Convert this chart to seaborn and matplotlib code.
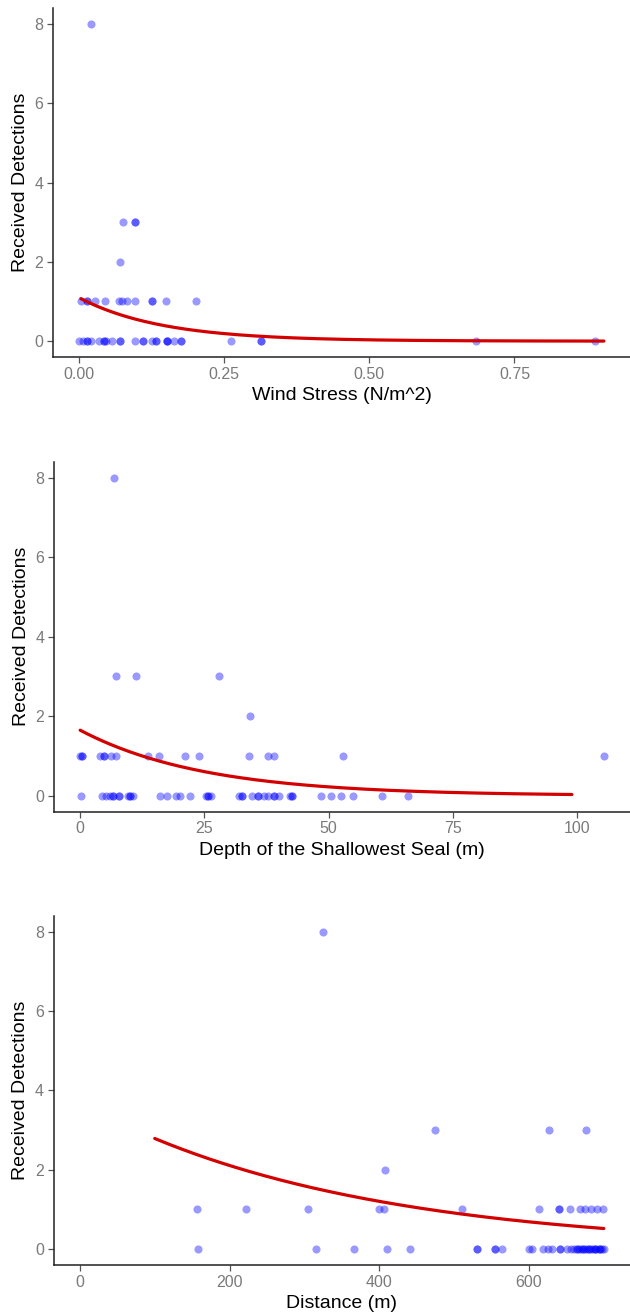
import numpy as np
import pandas as pd
import matplotlib
matplotlib.use("Agg")
import matplotlib.pyplot as plt
import seaborn as sns

# ---- data: x positions of points, grouped by number of received detections ----
wind_8 = [0.020]
wind_3 = [0.076, 0.0955, 0.0955]
wind_2 = [0.070]
wind_1 = [0.003, 0.014, 0.014, 0.027, 0.044, 0.069, 0.074, 0.082, 0.096,
          0.125, 0.125, 0.150, 0.201]
wind_0 = [0.000, 0.007, 0.014, 0.014, 0.020, 0.034, 0.043, 0.043, 0.047, 0.057,
          0.070, 0.070, 0.096, 0.110, 0.110, 0.125, 0.133, 0.133, 0.152, 0.152,
          0.152, 0.163, 0.176, 0.176, 0.261, 0.314, 0.314, 0.683, 0.888]

depth_8 = [6.9]
depth_3 = [7.2, 11.2, 28.0]
depth_2 = [34.2]
depth_1 = [0.0, 0.3, 0.3, 4.0, 4.7, 4.7, 6.3, 7.3, 13.7, 15.9, 21.2, 24.0,
           34.0, 37.8, 39.0, 52.9, 105.4]
depth_0 = [0.1, 4.3, 5.3, 6.0, 6.7, 6.7, 7.9, 7.9, 9.7, 10.1, 10.1, 10.7, 16.1,
           17.5, 19.3, 20.1, 22.2, 25.3, 25.8, 25.8, 26.3, 32.0, 32.5, 32.5,
           34.5, 35.8, 35.8, 37.0, 37.9, 39.0, 39.0, 40.1, 42.2, 42.7, 42.7,
           48.5, 50.5, 52.5, 55.0, 60.8, 66.0]

dist_8 = [325]
dist_3 = [474, 627, 676]
dist_2 = [408]
dist_1 = [156, 222, 305, 399, 406, 511, 614, 640, 640, 655, 668, 675, 683,
          691, 699]
dist_0 = [158, 316, 366, 410, 441, 531, 531, 555, 555, 564, 600, 604, 619, 625,
          631, 642, 642, 651, 656, 660, 664, 664, 667, 670, 672, 672, 675, 678,
          680, 680, 683, 685, 688, 688, 690, 693, 695, 695, 698, 700]

# poisson fit: (intercept, slope, x start, x end)
wind_fit = (0.09, -7.0, 0.003, 0.904)
depth_fit = (0.50, -0.040, 0.0, 99.0)
dist_fit = (1.306, -0.0028, 100.0, 700.0)

wind_ticks = [0.0, 0.25, 0.5, 0.75]
wind_labels = ["0.00", "0.25", "0.50", "0.75"]
depth_ticks = [0, 25, 50, 75, 100]
dist_ticks = [0, 200, 400, 600]
y_ticks = [0, 2, 4, 6, 8]


def make_df(groups):
    rows = []
    for count, xs in groups.items():
        for x in xs:
            rows.append((x, count))
    return pd.DataFrame(rows, columns=["x", "detections"])


def fit_df(fit):
    a, b, x0, x1 = fit
    xs = np.linspace(x0, x1, 200)
    return pd.DataFrame({"x": xs, "detections": np.exp(a + b * xs)})


wind_df = make_df({8: wind_8, 3: wind_3, 2: wind_2, 1: wind_1, 0: wind_0})
depth_df = make_df({8: depth_8, 3: depth_3, 2: depth_2, 1: depth_1, 0: depth_0})
dist_df = make_df({8: dist_8, 3: dist_3, 2: dist_2, 1: dist_1, 0: dist_0})

sns.set_style("ticks")
plt.rcParams["font.family"] = ["Liberation Sans", "DejaVu Sans"]

fig = plt.figure(figsize=(6.3, 13.14), dpi=100)

panels = [
    (wind_df, wind_fit, [0.0841, 0.7283, 0.9159, 0.2656], (-0.045, 0.949),
     wind_ticks, wind_labels, "Wind Stress (N/m^2)"),
    (depth_df, depth_fit, [0.0857, 0.3823, 0.9143, 0.2663], (-5.27, 110.7),
     depth_ticks, [str(t) for t in depth_ticks], "Depth of the Shallowest Seal (m)"),
    (dist_df, dist_fit, [0.0852, 0.0373, 0.9148, 0.2656], (-35, 735),
     dist_ticks, [str(t) for t in dist_ticks], "Distance (m)"),
]

for df, fit, rect, xlim, ticks, labels, xlabel in panels:
    ax = fig.add_axes(rect)
    sns.scatterplot(data=df, x="x", y="detections", ax=ax, color="#0000FF",
                    alpha=0.4, s=34, linewidth=0, zorder=2)
    sns.lineplot(data=fit_df(fit), x="x", y="detections", ax=ax,
                 color="#D40000", linewidth=2.3, zorder=3)
    ax.set_xlim(*xlim)
    ax.set_ylim(-0.4, 8.4)
    ax.set_xticks(ticks)
    ax.set_xticklabels(labels)
    ax.set_yticks(y_ticks)
    ax.set_xlabel(xlabel, fontsize=14, color="black", labelpad=4)
    ax.set_ylabel("Received Detections", fontsize=14, color="black", labelpad=4)
    ax.tick_params(axis="both", labelsize=11.5, labelcolor="#7a7a7a",
                   color="#555555", length=4, width=0.9, pad=3)
    for side in ["left", "bottom"]:
        ax.spines[side].set_color("#222222")
        ax.spines[side].set_linewidth(1.1)
    sns.despine(ax=ax)

fig.savefig("out.png", dpi=100)
